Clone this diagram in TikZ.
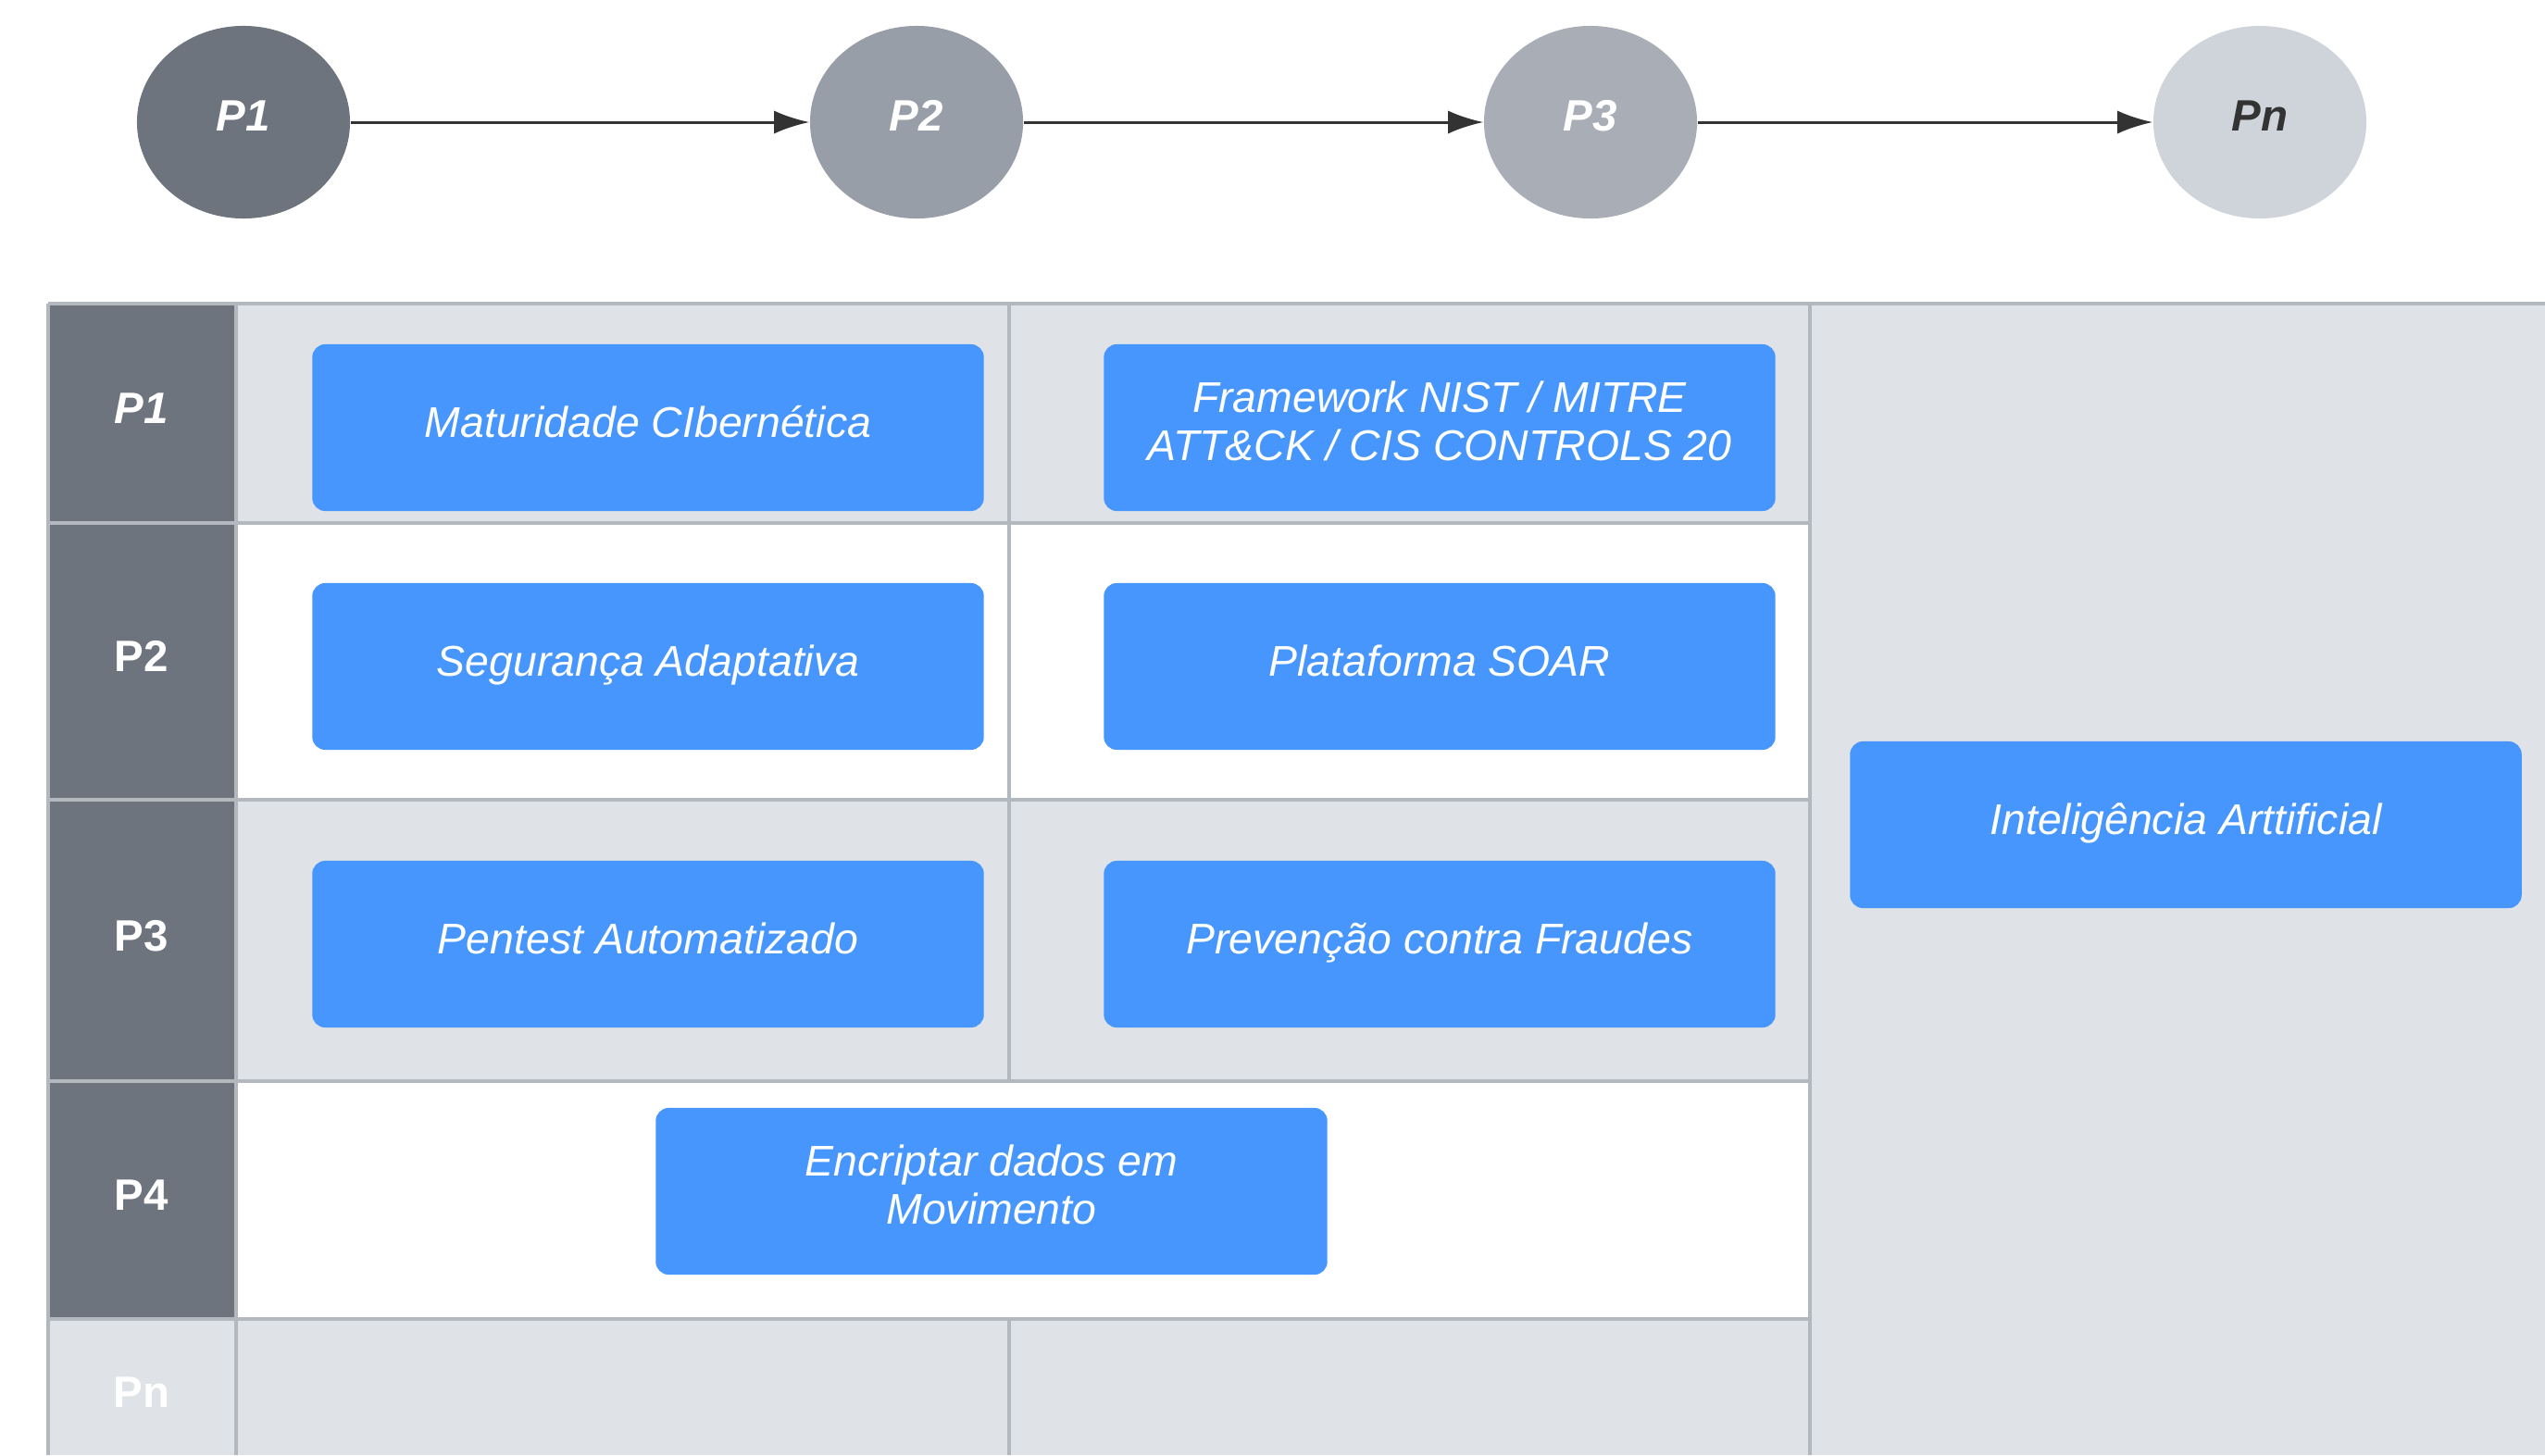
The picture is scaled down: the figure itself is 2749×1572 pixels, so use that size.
\documentclass[tikz,border=0pt]{standalone}
\usepackage{fontspec}
\setmainfont{Liberation Sans}
\usetikzlibrary{shapes.geometric,arrows.meta}
\definecolor{head}{HTML}{6E747D}
\definecolor{headmid}{HTML}{989EA7}
\definecolor{headlight}{HTML}{A9AEB6}
\definecolor{headpale}{HTML}{CFD4DB}
\definecolor{cell}{HTML}{DFE2E6}
\definecolor{rule}{HTML}{B3B8BF}
\definecolor{boxblue}{HTML}{4696FE}
\definecolor{linkgray}{HTML}{333333}
\begin{document}
\begin{tikzpicture}[x=0.01cm,y=-0.01cm,
    phase/.style={ellipse,minimum width=2.3cm,minimum height=2.08cm,inner sep=0pt,text depth=0.14cm,
      font=\fontsize{13.5}{16}\selectfont\bfseries\itshape},
    task/.style={fill=boxblue,rounded corners=1.4mm,minimum width=7.25cm,minimum height=1.8cm,
      inner sep=0pt,align=center,text=white,font=\fontsize{13.2}{14.8}\selectfont\itshape,
      execute at begin node=\strut,execute at end node=\strut},
    rowlabel/.style={text=white,font=\fontsize{13.5}{16}\selectfont\bfseries}]
  \useasboundingbox (0,0) rectangle (2749,1572);
  % phases on top
  \draw
    (263,132) node[phase,fill=head,text=white] (p1){P1}
    (990,132) node[phase,fill=headmid,text=white] (p2){P2}
    (1718,132) node[phase,fill=headlight,text=white] (p3){P3}
    (2441,132) node[phase,fill=headpale,text=linkgray] (pn){Pn};
  \begin{scope}[-{Latex[length=0.38cm,width=0.25cm]},line width=0.03cm,linkgray]
    \draw (p1) to (p2);
    \draw (p2) to (p3);
    \draw (p3) to (pn);
  \end{scope}
  % grid background
  \fill[cell] (255,328) rectangle (1955,565);
  \fill[cell] (255,864) rectangle (1955,1168);
  \fill[cell] (255,1425) rectangle (1955,1572);
  \fill[cell] (1955,328) rectangle (2749,1572);
  \fill[head] (52,328) rectangle (255,1425);
  \fill[cell] (52,1425) rectangle (255,1572);
  \begin{scope}[rule,line width=0.045cm]
    \draw (52,328) -- (2749,328);
    \draw (52,328) -- (52,1572);
    \draw (255,328) -- (255,1572);
    \draw (1090,328) -- (1090,1168);
    \draw (1090,1425) -- (1090,1572);
    \draw (1955,328) -- (1955,1572);
    \foreach \y in {565,864,1168,1425}
      \draw (52,\y) -- (1955,\y);
  \end{scope}
  % row heads
  \node[rowlabel,font=\fontsize{13.5}{16}\selectfont\bfseries\itshape] (r1) at (153,441) {P1};
  \node[rowlabel] (r2) at (153,709) {P2};
  \node[rowlabel] (r3) at (153,1011) {P3};
  \node[rowlabel] (r4) at (153,1291) {P4};
  \node[rowlabel] (rn) at (153,1504) {Pn};
  % tasks
  \node[task] (maturidade) at (700,462) {Maturidade CIbernética};
  \node[task] (framework) at (1555,462) {Framework NIST / MITRE\\ATT\&CK / CIS CONTROLS 20};
  \node[task] (adaptativa) at (700,720) {Segurança Adaptativa};
  \node[task] (soar) at (1555,720) {Plataforma SOAR};
  \node[task] (pentest) at (700,1020) {Pentest Automatizado};
  \node[task] (fraudes) at (1555,1020) {Prevenção contra Fraudes};
  \node[task] (encriptar) at (1071,1287) {Encriptar dados em\\Movimento};
  \node[task] (ia) at (2361,891) {Inteligência Arttificial};
\end{tikzpicture}
\end{document}
